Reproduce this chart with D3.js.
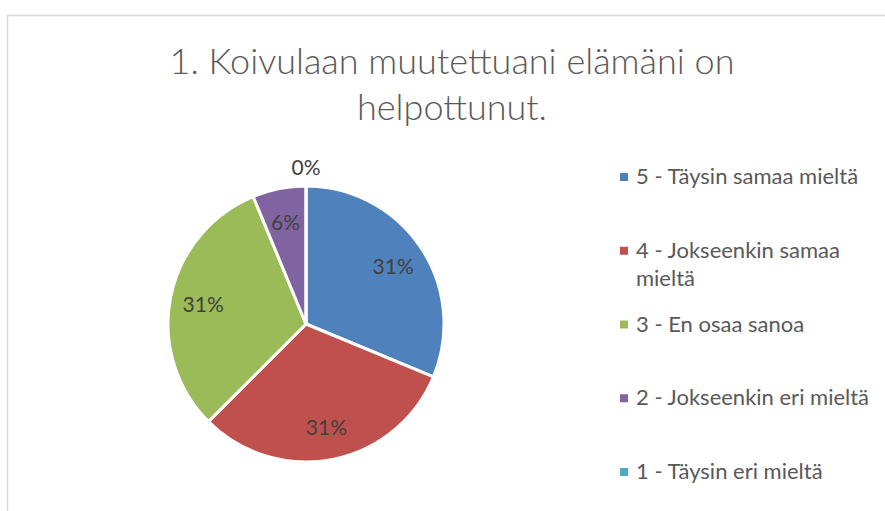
<!DOCTYPE html>
<html>
<head>
<meta charset="utf-8">
<script src="https://cdn.jsdelivr.net/npm/d3@7"></script>
<style>
html,body{margin:0;padding:0;background:#fff;}
svg{display:block;}
</style>
</head>
<body>
<svg id="chart" width="885" height="511"></svg>
<script>
const titleText = "1. Koivulaan muutettuani elämäni on helpottunut.";
const categories = ["5 - Täysin samaa mieltä","4 - Jokseenkin samaa mieltä","3 - En osaa sanoa","2 - Jokseenkin eri mieltä","1 - Täysin eri mieltä"];
const values = [5,5,5,1,0];
const colors = ["#4F81BD","#C0504D","#9BBB59","#8064A2","#4BACC6"];

const FONT = "Lato, 'Open Sans', 'Liberation Sans', sans-serif";
const svg = d3.select("#chart");

// chart border
svg.append("rect")
  .attr("x",7.5).attr("y",15.5).attr("width",900).attr("height",520)
  .attr("fill","#fff").attr("stroke","#d9d9d9").attr("stroke-width",1.5);

function wrapLines(text, maxW, size, weight){
  const words = text.split(" ");
  const tmp = svg.append("text").attr("font-family",FONT).attr("font-size",size).attr("font-weight",weight);
  const lines=[]; let cur="";
  words.forEach(w=>{
    const t = cur? cur+" "+w : w;
    tmp.text(t);
    if(tmp.node().getComputedTextLength()>maxW && cur){ lines.push(cur); cur=w; }
    else cur=t;
  });
  if(cur) lines.push(cur);
  tmp.remove();
  return lines;
}

// title
const tLines = wrapLines(titleText, 620, 36, 300);
svg.append("text")
  .attr("font-family",FONT).attr("font-size",36).attr("font-weight",300)
  .attr("fill","#595959").attr("text-anchor","middle")
  .selectAll("tspan").data(tLines).join("tspan")
  .attr("x",452).attr("y",(d,i)=>74+i*46).text(d=>d);

// pie
const cx=306, cy=324, R=138;
const total = d3.sum(values);
const pie = d3.pie().sort(null).value(d=>d)(values);
const arc = d3.arc().innerRadius(0).outerRadius(R);
const g = svg.append("g").attr("transform",`translate(${cx},${cy})`);
g.selectAll("path").data(pie).join("path")
  .attr("d",arc).attr("fill",(d,i)=>colors[i])
  .attr("stroke","#fff").attr("stroke-width",3).attr("stroke-linejoin","round");

const labelArc = d3.arc().innerRadius(R*0.76).outerRadius(R*0.76);
const outArc = d3.arc().innerRadius(R+20).outerRadius(R+20);
g.selectAll("text.lab").data(pie).join("text")
  .attr("class","lab")
  .attr("font-family",FONT).attr("font-size",21)
  .attr("fill","#404040").attr("text-anchor","middle").attr("dominant-baseline","central")
  .attr("transform",d=>{
    const c = (d.endAngle-d.startAngle)===0 ? outArc.centroid(d) : labelArc.centroid(d);
    return `translate(${c[0]},${c[1]})`;
  })
  .text(d=>Math.round(d.value/total*100)+"%");

// legend
const legY = d3.scalePoint().domain(categories).range([177,472]);
const lg = svg.append("g");
categories.forEach((c,i)=>{
  const y = legY(c);
  lg.append("rect").attr("x",620).attr("y",y-4).attr("width",8).attr("height",8).attr("fill",colors[i]);
  const lines = wrapLines(c, 245, 22, 400);
  lg.append("text").attr("font-family",FONT).attr("font-size",22).attr("fill","#595959")
    .selectAll("tspan").data(lines).join("tspan")
    .attr("x",636).attr("y",(d,j)=>y+7+j*28).text(d=>d);
});
</script>
</body>
</html>
